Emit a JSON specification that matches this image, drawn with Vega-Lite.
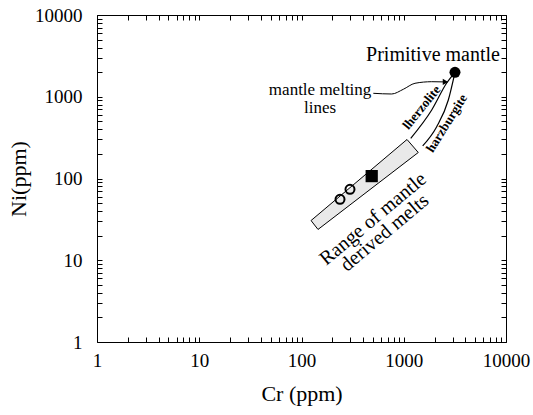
{
  "$schema": "https://vega.github.io/schema/vega-lite/v6.json",
  "width": 409,
  "height": 327,
  "autosize": "none",
  "padding": {"left": 97, "top": 15, "right": 27, "bottom": 73},
  "background": "white",
  "config": {
    "view": {"stroke": "black", "strokeWidth": 1},
    "font": "Liberation Serif",
    "axis": {
      "domain": false,
      "grid": false,
      "ticks": true,
      "tickColor": "black",
      "tickWidth": 1,
      "labelColor": "black",
      "titleColor": "black",
      "labelFont": "Liberation Serif",
      "titleFont": "Liberation Serif",
      "labelFontSize": 19,
      "titleFontSize": 22,
      "titleFontWeight": "normal",
      "labelOverlap": false,
      "labelFlush": false,
      "labelBound": false
    }
  },
  "datasets": {
    "rangebox": [
      {"i": 0, "x": 124, "y": 30.6},
      {"i": 1, "x": 145, "y": 23.8},
      {"i": 2, "x": 1387, "y": 208},
      {"i": 3, "x": 1076, "y": 300},
      {"i": 4, "x": 124, "y": 30.6}
    ],
    "meltlines": [
      {"line": "lherzolite", "i": 0, "x": 1170, "y": 310},
      {"line": "lherzolite", "i": 1, "x": 1877, "y": 689},
      {"line": "lherzolite", "i": 2, "x": 2630, "y": 1473},
      {"line": "lherzolite", "i": 3, "x": 3170, "y": 1991},
      {"line": "harzburgite", "i": 0, "x": 1532, "y": 250},
      {"line": "harzburgite", "i": 1, "x": 2100, "y": 430},
      {"line": "harzburgite", "i": 2, "x": 2728, "y": 912},
      {"line": "harzburgite", "i": 3, "x": 3170, "y": 1991}
    ],
    "pointer": [
      {"i": 0, "x": 504, "y": 1102},
      {"i": 1, "x": 762, "y": 1081},
      {"i": 2, "x": 990, "y": 1234},
      {"i": 3, "x": 1288, "y": 1461},
      {"i": 4, "x": 1876, "y": 1528},
      {"i": 5, "x": 2560, "y": 1518}
    ],
    "samples": [
      {"sample": "open", "x": 238, "y": 55.7},
      {"sample": "open", "x": 298, "y": 73.8},
      {"sample": "square", "x": 486, "y": 107},
      {"sample": "primitive", "x": 3170, "y": 1991}
    ]
  },
  "layer": [
    {
      "data": {"name": "rangebox"},
      "mark": {"type": "line", "fill": "#e9e9e9", "stroke": "black", "strokeWidth": 1, "interpolate": "linear"},
      "encoding": {
        "x": {
          "field": "x", "type": "quantitative",
          "scale": {"type": "log", "domain": [1, 10000], "nice": false},
          "axis": {
            "orient": "bottom",
            "title": "Cr (ppm)",
            "offset": -5,
            "values": [1,2,3,4,5,6,7,8,9,10,20,30,40,50,60,70,80,90,100,200,300,400,500,600,700,800,900,1000,2000,3000,4000,5000,6000,7000,8000,9000,10000],
            "format": "d",
            "labelExpr": "indexof([1,10,100,1000,10000], datum.value) >= 0 ? datum.label : ''",
            "tickSize": 5,
            "labelPadding": 9,
            "titlePadding": 13
          }
        },
        "y": {
          "field": "y", "type": "quantitative",
          "scale": {"type": "log", "domain": [1, 10000], "nice": false},
          "axis": {
            "orient": "left",
            "title": "Ni(ppm)",
            "offset": -5,
            "values": [1,2,3,4,5,6,7,8,9,10,20,30,40,50,60,70,80,90,100,200,300,400,500,600,700,800,900,1000,2000,3000,4000,5000,6000,7000,8000,9000,10000],
            "format": "d",
            "labelExpr": "indexof([1,10,100,1000,10000], datum.value) >= 0 ? datum.label : ''",
            "tickSize": 5,
            "labelPadding": 15,
            "titlePadding": 4
          }
        },
        "order": {"field": "i", "type": "quantitative"}
      }
    },
    {
      "data": {"name": "samples"},
      "mark": {"type": "point", "opacity": 0},
      "encoding": {
        "x": {
          "field": "x", "type": "quantitative",
          "scale": {"type": "log", "domain": [1, 10000], "nice": false},
          "axis": {
            "orient": "top",
            "title": null,
            "labels": false,
            "offset": -5,
            "values": [1,2,3,4,5,6,7,8,9,10,20,30,40,50,60,70,80,90,100,200,300,400,500,600,700,800,900,1000,2000,3000,4000,5000,6000,7000,8000,9000,10000],
            "tickSize": 5
          }
        },
        "y": {
          "field": "y", "type": "quantitative",
          "scale": {"type": "log", "domain": [1, 10000], "nice": false},
          "axis": {
            "orient": "right",
            "title": null,
            "labels": false,
            "offset": -5,
            "values": [1,2,3,4,5,6,7,8,9,10,20,30,40,50,60,70,80,90,100,200,300,400,500,600,700,800,900,1000,2000,3000,4000,5000,6000,7000,8000,9000,10000],
            "tickSize": 5
          }
        }
      }
    },
    {
      "data": {"name": "meltlines"},
      "mark": {"type": "line", "stroke": "black", "strokeWidth": 1.2, "interpolate": "monotone"},
      "encoding": {
        "x": {"field": "x", "type": "quantitative", "scale": {"type": "log", "domain": [1, 10000]}, "axis": null},
        "y": {"field": "y", "type": "quantitative", "scale": {"type": "log", "domain": [1, 10000]}, "axis": null},
        "detail": {"field": "line"},
        "order": {"field": "i", "type": "quantitative"}
      }
    },
    {
      "data": {"name": "pointer"},
      "mark": {"type": "line", "stroke": "black", "strokeWidth": 1, "interpolate": "monotone"},
      "encoding": {
        "x": {"field": "x", "type": "quantitative", "scale": {"type": "log", "domain": [1, 10000]}, "axis": null},
        "y": {"field": "y", "type": "quantitative", "scale": {"type": "log", "domain": [1, 10000]}, "axis": null},
        "order": {"field": "i", "type": "quantitative"}
      }
    },
    {
      "data": {"values": [{"x": 2560, "y": 1518}]},
      "mark": {"type": "point", "shape": "triangle-right", "filled": true, "color": "black", "size": 40, "opacity": 1},
      "encoding": {
        "x": {"field": "x", "type": "quantitative", "scale": {"type": "log", "domain": [1, 10000]}, "axis": null},
        "y": {"field": "y", "type": "quantitative", "scale": {"type": "log", "domain": [1, 10000]}, "axis": null}
      }
    },
    {
      "data": {"name": "samples"},
      "transform": [{"filter": "datum.sample == 'open'"}],
      "mark": {"type": "point", "shape": "circle", "filled": false, "stroke": "black", "fill": "white", "fillOpacity": 0, "strokeWidth": 2, "size": 81, "opacity": 1},
      "encoding": {
        "x": {"field": "x", "type": "quantitative", "scale": {"type": "log", "domain": [1, 10000]}, "axis": null},
        "y": {"field": "y", "type": "quantitative", "scale": {"type": "log", "domain": [1, 10000]}, "axis": null}
      }
    },
    {
      "data": {"name": "samples"},
      "transform": [{"filter": "datum.sample == 'square'"}],
      "mark": {"type": "point", "shape": "square", "filled": true, "color": "black", "size": 150, "opacity": 1},
      "encoding": {
        "x": {"field": "x", "type": "quantitative", "scale": {"type": "log", "domain": [1, 10000]}, "axis": null},
        "y": {"field": "y", "type": "quantitative", "scale": {"type": "log", "domain": [1, 10000]}, "axis": null}
      }
    },
    {
      "data": {"name": "samples"},
      "transform": [{"filter": "datum.sample == 'primitive'"}],
      "mark": {"type": "point", "shape": "circle", "filled": true, "color": "black", "size": 121, "opacity": 1},
      "encoding": {
        "x": {"field": "x", "type": "quantitative", "scale": {"type": "log", "domain": [1, 10000]}, "axis": null},
        "y": {"field": "y", "type": "quantitative", "scale": {"type": "log", "domain": [1, 10000]}, "axis": null}
      }
    },
    {
      "data": {"values": [{"x": 1933, "y": 3243, "label": "Primitive mantle"}]},
      "mark": {"type": "text", "font": "Liberation Serif", "fontSize": 20, "align": "center", "baseline": "middle", "color": "black"},
      "encoding": {
        "x": {"field": "x", "type": "quantitative", "scale": {"type": "log", "domain": [1, 10000]}, "axis": null},
        "y": {"field": "y", "type": "quantitative", "scale": {"type": "log", "domain": [1, 10000]}, "axis": null},
        "text": {"field": "label"}
      }
    },
    {
      "data": {"values": [{"x": 152, "y": 1210, "label": ["mantle melting", "lines"]}]},
      "mark": {"type": "text", "font": "Liberation Serif", "fontSize": 17, "lineHeight": 18, "align": "center", "baseline": "middle", "color": "black"},
      "encoding": {
        "x": {"field": "x", "type": "quantitative", "scale": {"type": "log", "domain": [1, 10000]}, "axis": null},
        "y": {"field": "y", "type": "quantitative", "scale": {"type": "log", "domain": [1, 10000]}, "axis": null},
        "text": {"field": "label"}
      }
    },
    {
      "data": {"values": [{"x": 1499, "y": 739, "label": "lherzolite"}]},
      "mark": {"type": "text", "font": "Liberation Serif", "fontSize": 13, "fontWeight": "bold", "angle": -51, "align": "center", "baseline": "middle", "color": "black"},
      "encoding": {
        "x": {"field": "x", "type": "quantitative", "scale": {"type": "log", "domain": [1, 10000]}, "axis": null},
        "y": {"field": "y", "type": "quantitative", "scale": {"type": "log", "domain": [1, 10000]}, "axis": null},
        "text": {"field": "label"}
      }
    },
    {
      "data": {"values": [{"x": 2630, "y": 473, "label": "harzburgite"}]},
      "mark": {"type": "text", "font": "Liberation Serif", "fontSize": 13, "fontWeight": "bold", "angle": -58, "align": "center", "baseline": "middle", "color": "black"},
      "encoding": {
        "x": {"field": "x", "type": "quantitative", "scale": {"type": "log", "domain": [1, 10000]}, "axis": null},
        "y": {"field": "y", "type": "quantitative", "scale": {"type": "log", "domain": [1, 10000]}, "axis": null},
        "text": {"field": "label"}
      }
    },
    {
      "data": {"values": [{"x": 500, "y": 32, "label": ["Range of mantle", "derived melts"]}]},
      "mark": {"type": "text", "font": "Liberation Serif", "fontSize": 20, "lineHeight": 18, "angle": -40, "align": "center", "baseline": "middle", "color": "black"},
      "encoding": {
        "x": {"field": "x", "type": "quantitative", "scale": {"type": "log", "domain": [1, 10000]}, "axis": null},
        "y": {"field": "y", "type": "quantitative", "scale": {"type": "log", "domain": [1, 10000]}, "axis": null},
        "text": {"field": "label"}
      }
    }
  ],
  "resolve": {"axis": {"x": "independent", "y": "independent"}}
}
